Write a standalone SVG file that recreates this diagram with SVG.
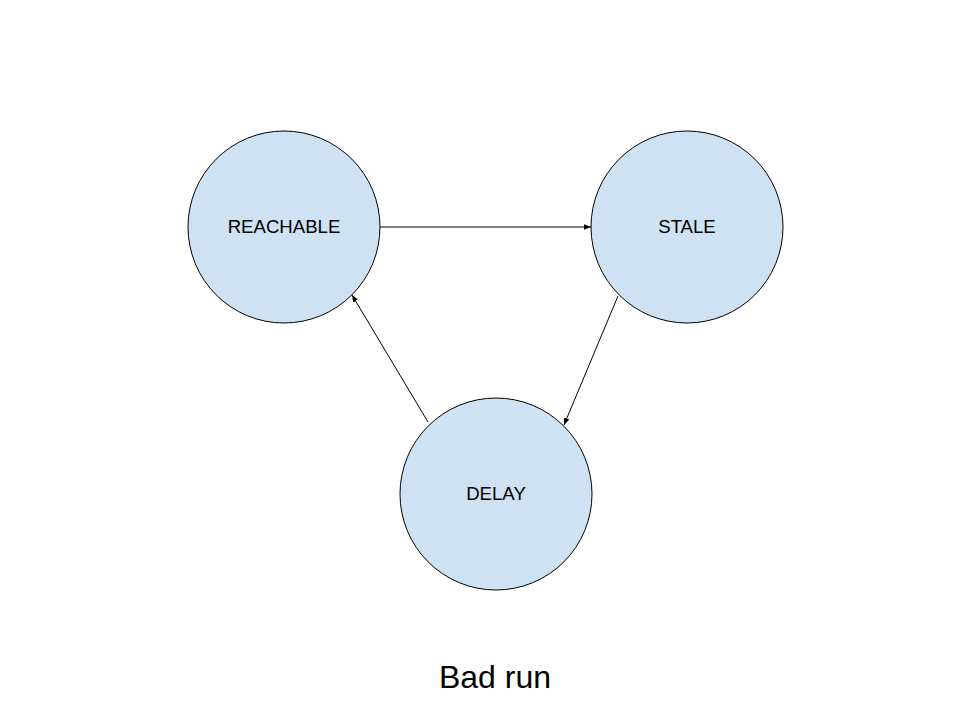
<svg xmlns="http://www.w3.org/2000/svg" width="960" height="720" viewBox="0 0 960 720">
<style>
.node{fill:#cfe2f3;stroke:#000;stroke-width:1}
.lbl{font-family:"Liberation Sans",Arial,sans-serif;font-size:18.6px;fill:#000;text-anchor:middle}
.edge{stroke:#000;stroke-width:1;fill:none;marker-end:url(#ah)}
</style>
<defs>
<marker id="ah" viewBox="0 0 10 10" refX="10" refY="5" markerWidth="7" markerHeight="7" markerUnits="userSpaceOnUse" orient="auto">
<path d="M0,1 L10,5 L0,9 z" fill="#000"/>
</marker>
</defs>
<rect width="960" height="720" fill="#fff"/>
<g id="reachable">
<circle class="node" cx="284" cy="227" r="96"/>
<text class="lbl" x="284" y="233">REACHABLE</text>
</g>
<g id="stale">
<circle class="node" cx="687" cy="227" r="96"/>
<text class="lbl" x="687" y="233">STALE</text>
</g>
<g id="delay">
<circle class="node" cx="496" cy="494" r="96"/>
<text class="lbl" x="496" y="500">DELAY</text>
</g>
<g id="connectors">
<line class="edge" x1="380" y1="227" x2="591" y2="227"/>
<line class="edge" x1="618" y1="296" x2="564" y2="425"/>
<line class="edge" x1="428" y1="422" x2="352" y2="295"/>
</g>
<text x="495" y="688" font-family="'Liberation Sans',Arial,sans-serif" font-size="32" text-anchor="middle" fill="#000">Bad run</text>
</svg>
